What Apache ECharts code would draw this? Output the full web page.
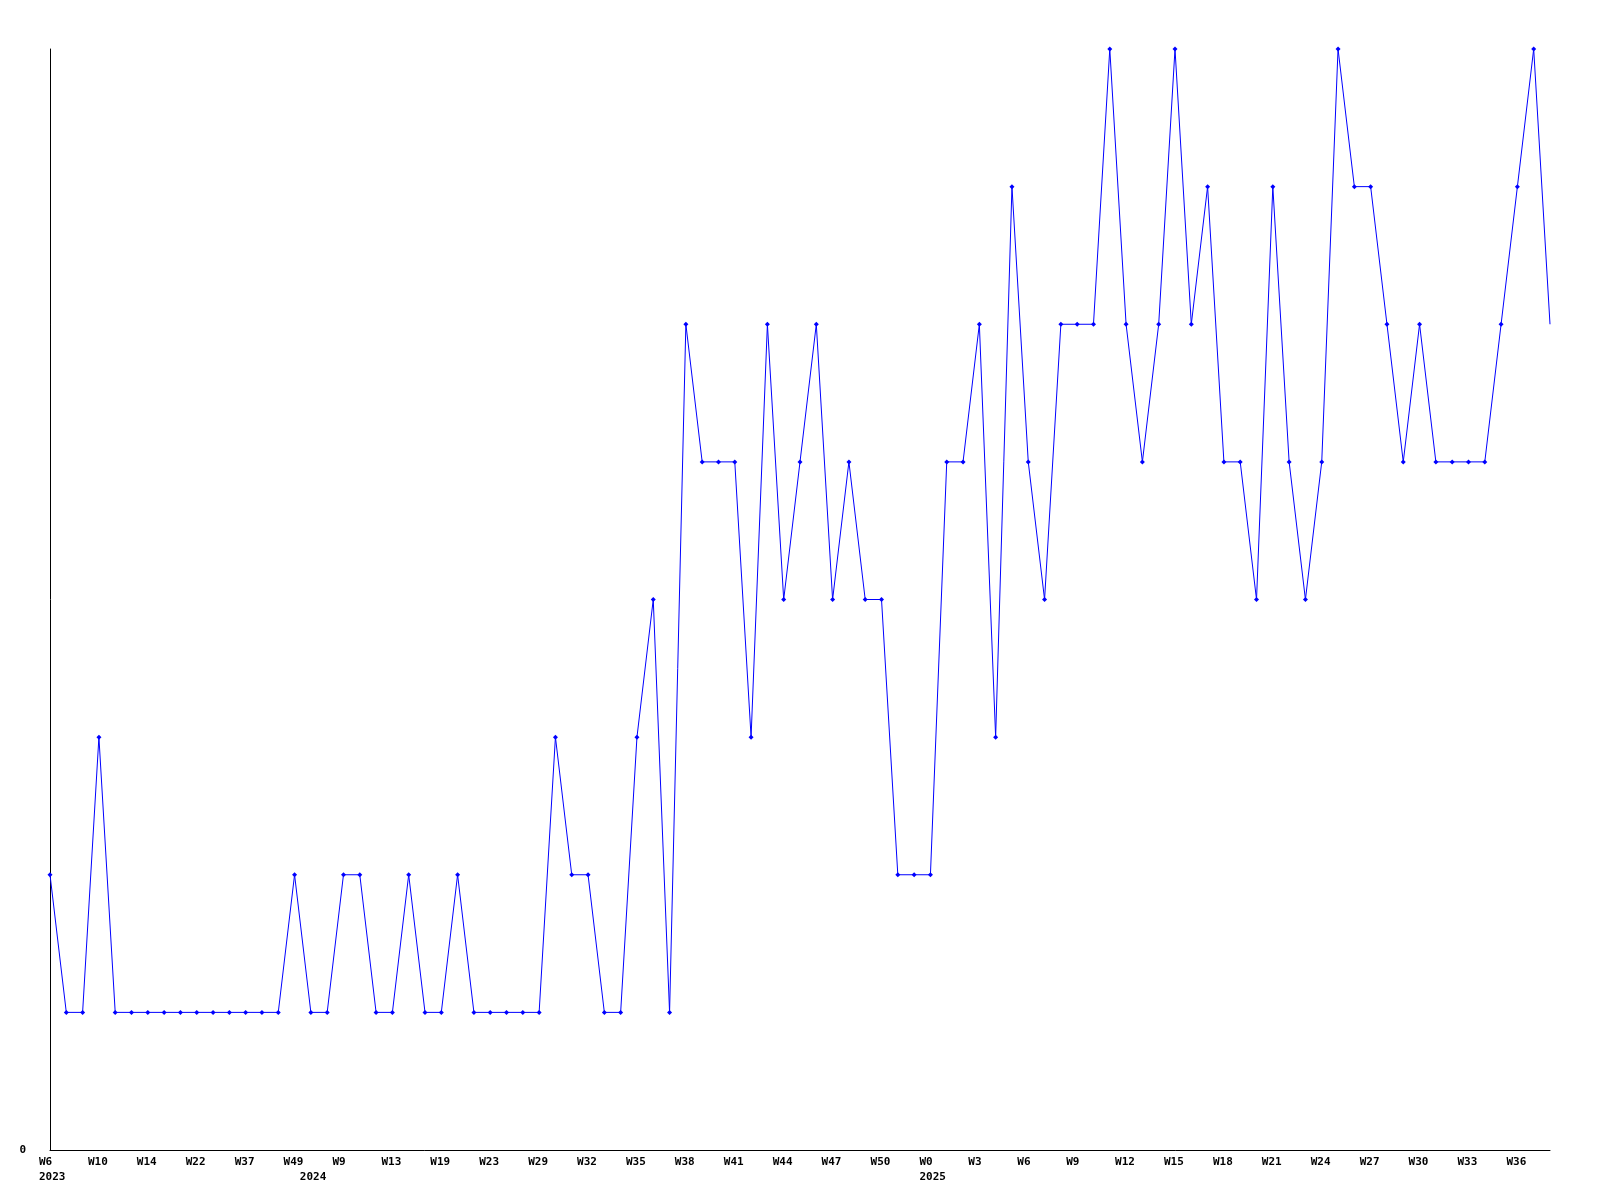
<!DOCTYPE html>
<html>
<head>
<meta charset="utf-8">
<script src="https://cdn.jsdelivr.net/npm/echarts@6/dist/echarts.min.js"></script>
<style>
    html, body {margin: 0; padding: 0; background: #fff;}
    #main {width: 1600px; height: 1200px;}
</style>
</head>
<body>
<div id="main"></div>
<script>
// 周次（年-周）
var weeks = [
    '2023-W6','2023-W7','2023-W8','2023-W10','2023-W11','2023-W12','2023-W14','2023-W16',
    '2023-W19','2023-W22','2023-W25','2023-W30','2023-W37','2023-W41','2023-W45','2023-W49',
    '2024-W1','2024-W5','2024-W9','2024-W10','2024-W11','2024-W13','2024-W15','2024-W17',
    '2024-W19','2024-W20','2024-W21','2024-W23','2024-W25','2024-W27','2024-W29','2024-W30',
    '2024-W31','2024-W32','2024-W33','2024-W34','2024-W35','2024-W36','2024-W37','2024-W38',
    '2024-W39','2024-W40','2024-W41','2024-W42','2024-W43','2024-W44','2024-W45','2024-W46',
    '2024-W47','2024-W48','2024-W49','2024-W50','2024-W51','2024-W52',
    '2025-W0','2025-W1','2025-W2','2025-W3','2025-W4','2025-W5','2025-W6','2025-W7',
    '2025-W8','2025-W9','2025-W10','2025-W11','2025-W12','2025-W13','2025-W14','2025-W15',
    '2025-W16','2025-W17','2025-W18','2025-W19','2025-W20','2025-W21','2025-W22','2025-W23',
    '2025-W24','2025-W25','2025-W26','2025-W27','2025-W28','2025-W29','2025-W30','2025-W31',
    '2025-W32','2025-W33','2025-W34','2025-W35','2025-W36','2025-W37','2025-W38'
];
// 每周数值
var counts = [
    2,1,1,3,1,1,1,1,1,1,1,1,1,1,1,2,
    1,1,2,2,1,1,2,1,1,2,1,1,1,1,1,3,
    2,2,1,1,3,4,1,6,5,5,5,3,6,4,5,6,
    4,5,4,4,2,2,
    2,5,5,6,3,7,5,4,6,6,6,8,6,5,6,8,
    6,7,5,5,4,7,5,4,5,8,7,7,6,5,6,5,
    5,5,5,6,7,8,6
];
var yMin = 0;
var yMax = 8;

var myChart = echarts.init(document.getElementById('main'));
var labelFont = {
    color: '#000',
    fontFamily: 'DejaVu Sans Mono',
    fontWeight: 'bold',
    fontSize: 11
};

var seriesData = counts.map(function (v, i) {
    // 最后一个点落在绘图区边缘，原图未画标记
    if (i === counts.length - 1) {
        return {value: v, symbol: 'none'};
    }
    return v;
});

var option = {
    animation: false,
    backgroundColor: '#fff',
    grid: {left: 50, right: 50, top: 49, bottom: 50},
    xAxis: {
        type: 'category',
        boundaryGap: false,
        data: weeks,
        axisLine: {lineStyle: {color: '#000', width: 1}},
        axisTick: {show: false},
        splitLine: {show: false},
        axisLabel: Object.assign({}, labelFont, {
            interval: 0,
            align: 'left',
            padding: [0, 0, 0, -11],
            margin: 5,
            lineHeight: 15,
            formatter: function (value, index) {
                var parts = value.split('-');
                var prevYear = index > 0 ? weeks[index - 1].split('-')[0] : null;
                var top = index % 3 === 0 ? parts[1] : ' ';
                var bottom = parts[0] !== prevYear ? parts[0] : ' ';
                return top + '\n' + bottom;
            }
        })
    },
    yAxis: {
        type: 'value',
        min: yMin,
        max: yMax,
        interval: 1,
        axisLine: {show: true, lineStyle: {color: '#000', width: 1}},
        axisTick: {show: false},
        splitLine: {show: false},
        axisLabel: Object.assign({}, labelFont, {
            margin: 24,
            formatter: function (v) {
                return v === 0 ? '0' : '';
            }
        })
    },
    series: [{
        type: 'line',
        data: seriesData,
        symbol: 'diamond',
        symbolSize: 5,
        showAllSymbol: true,
        lineStyle: {color: '#0000ff', width: 1},
        itemStyle: {color: '#0000ff'},
        clip: true
    }]
};
myChart.setOption(option);
</script>
</body>
</html>
